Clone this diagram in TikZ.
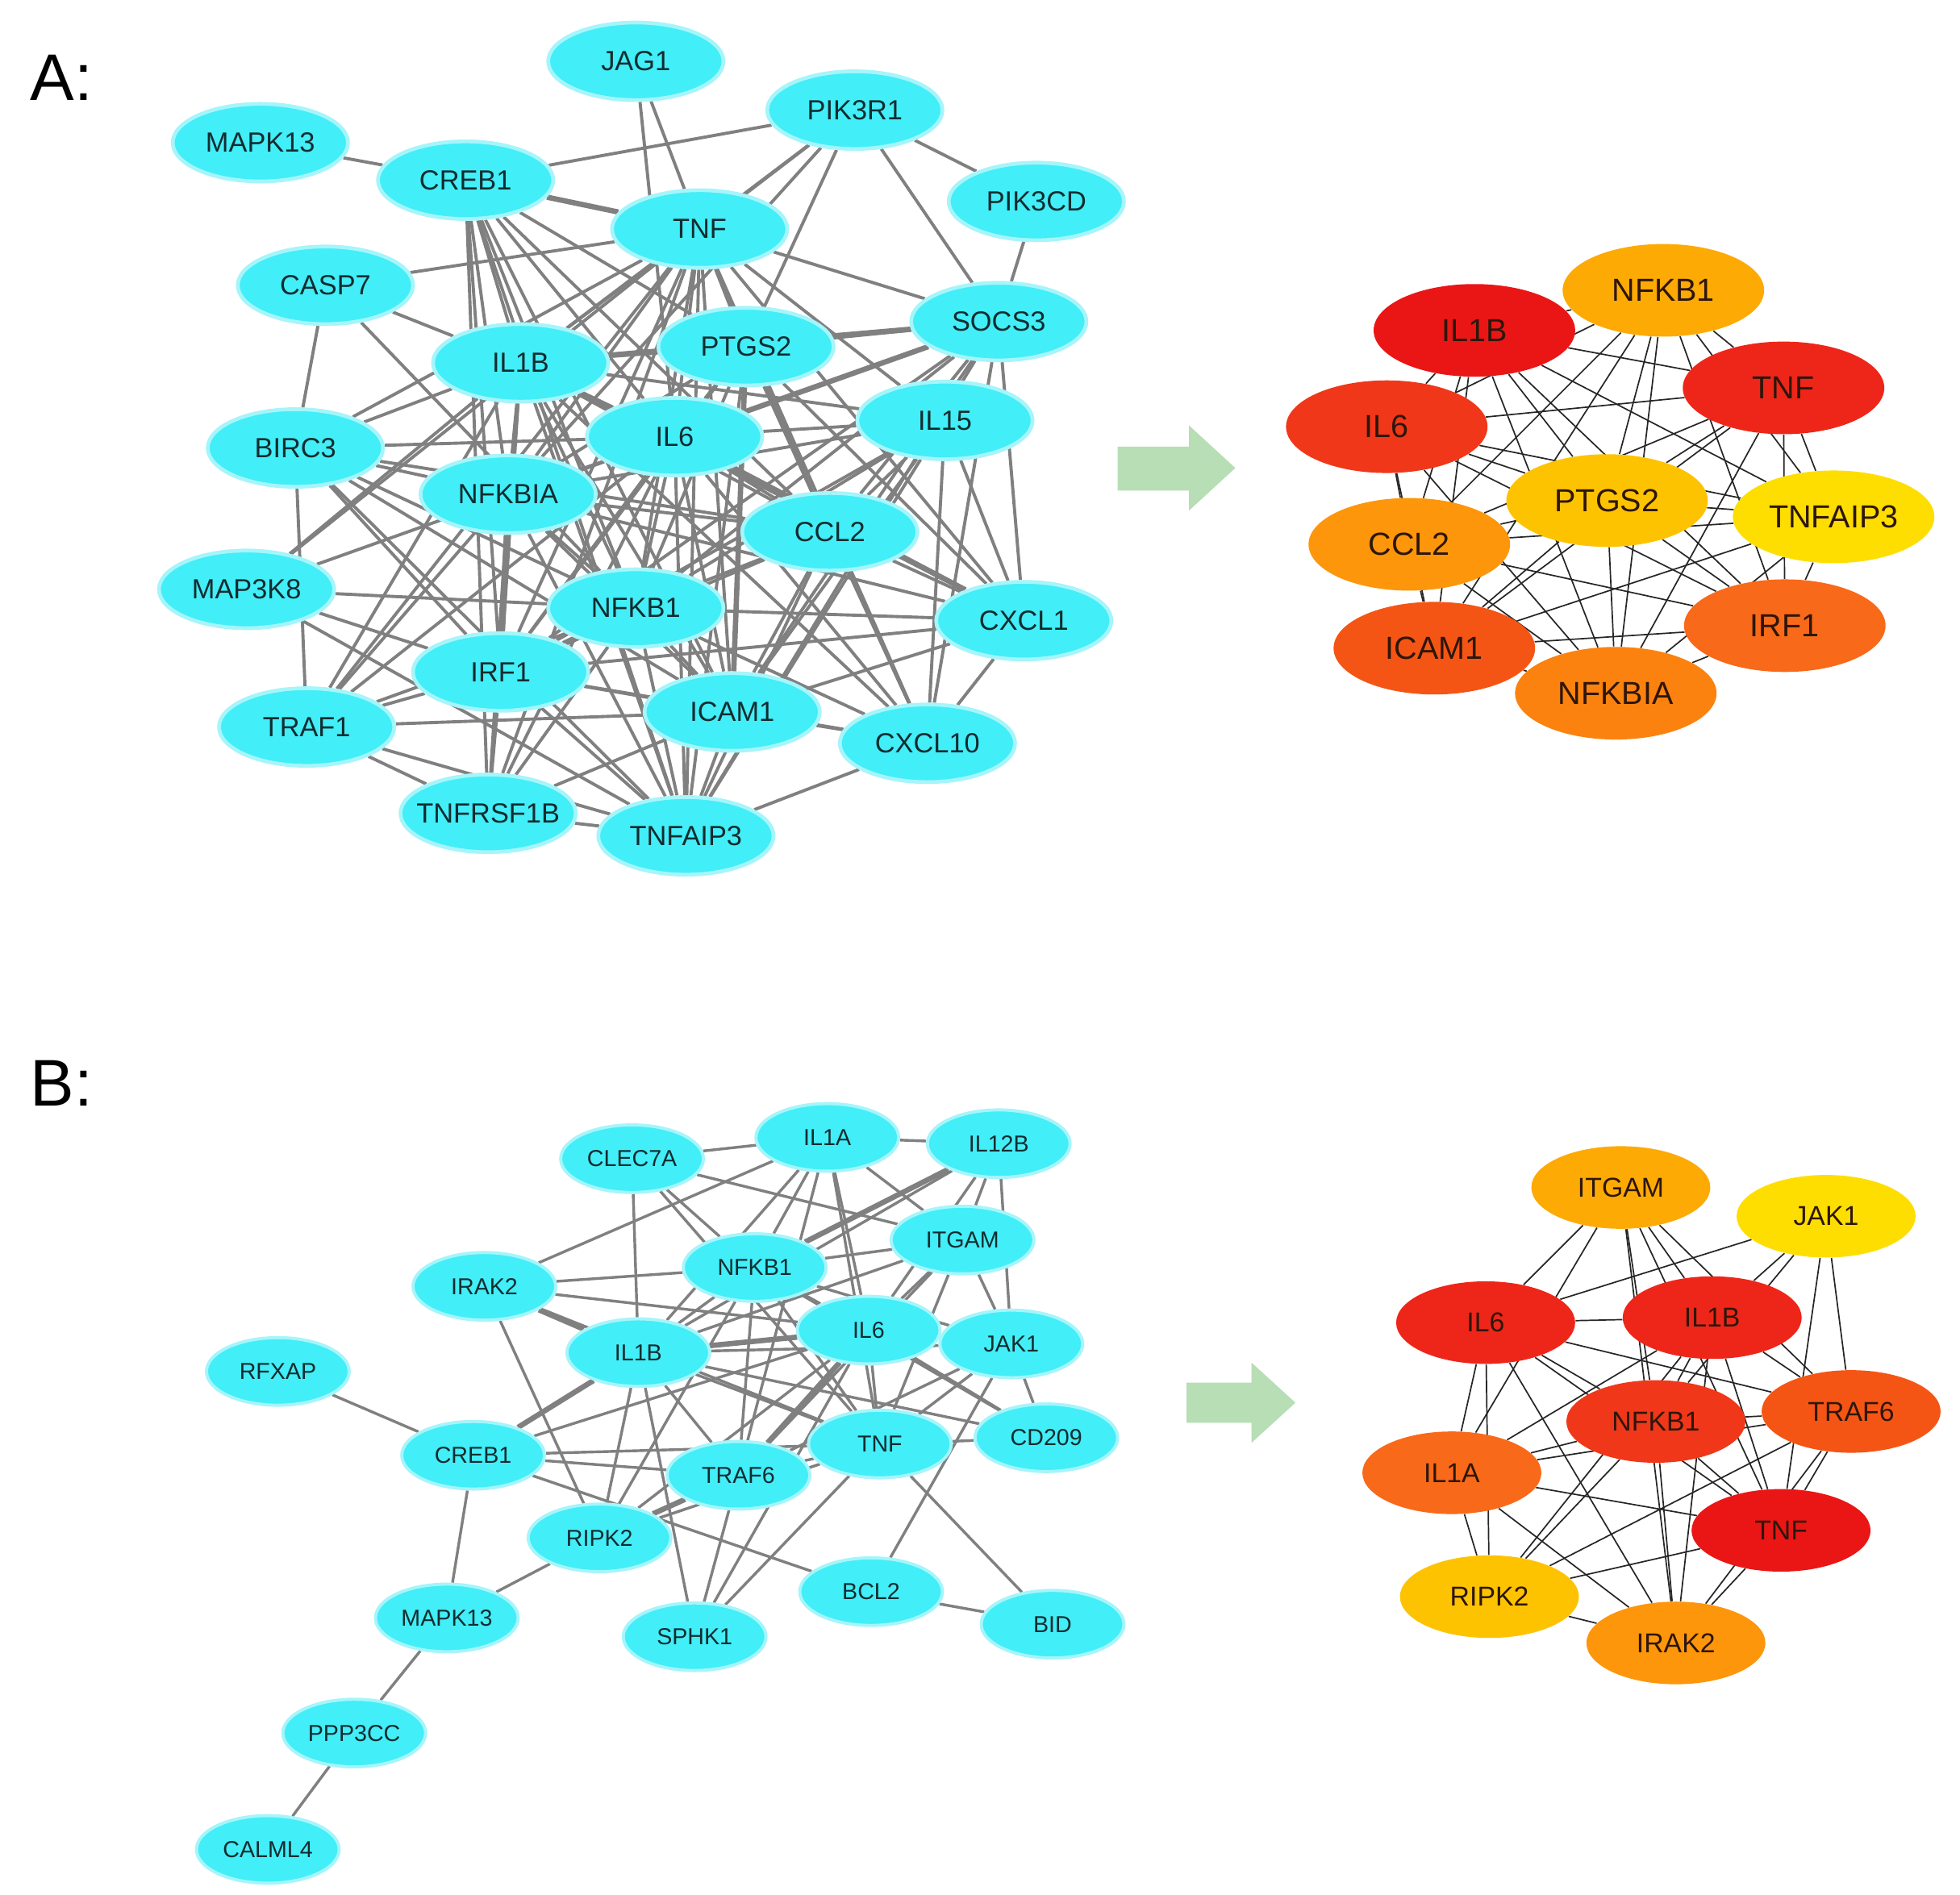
\documentclass[tikz,border=0pt]{standalone}
\usepackage{fontspec}
\setmainfont{Liberation Sans}
\usetikzlibrary{shapes.geometric,backgrounds}
\pgfdeclarelayer{edgelayer}
\pgfsetlayers{background,edgelayer,main}
\definecolor{cyanfill}{RGB}{66,238,247}
\definecolor{cyanglow}{RGB}{165,245,250}
\definecolor{cyantext}{RGB}{18,44,48}
\definecolor{edgegray}{RGB}{128,128,128}
\definecolor{hubtext}{RGB}{45,22,10}
\definecolor{arrowgreen}{RGB}{183,222,180}
\definecolor{cRa}{RGB}{234,22,22}
\definecolor{cRb}{RGB}{238,38,25}
\definecolor{cRc}{RGB}{240,55,25}
\definecolor{cRd}{RGB}{245,85,20}
\definecolor{cRe}{RGB}{248,105,25}
\definecolor{cRf}{RGB}{252,130,15}
\definecolor{cRg}{RGB}{253,150,10}
\definecolor{cRh}{RGB}{254,170,5}
\definecolor{cRi}{RGB}{254,195,0}
\definecolor{cRj}{RGB}{254,222,0}
\newcommand\zt[1]{\makebox[0pt]{#1}}
\begin{document}
\begin{tikzpicture}[x=0.2mm,y=-0.2mm,
 cnode/.style={ellipse, inner sep=0pt, fill=cyanfill, draw=cyanglow, line width=0.6mm, text=cyantext},
 cA/.style={cnode, minimum width=28mm, minimum height=12.4mm, font=\fontsize{12.6}{14}\selectfont},
 cB/.style={cnode, minimum width=22.8mm, minimum height=10.8mm, font=\fontsize{10.5}{12}\selectfont, line width=0.5mm},
 hA/.style={ellipse, inner sep=0pt, minimum width=32.2mm, minimum height=14.8mm, text=hubtext, font=\fontsize{14.5}{16}\selectfont, fill=#1},
 hB/.style={ellipse, inner sep=0pt, minimum width=28.6mm, minimum height=13.2mm, text=hubtext, font=\fontsize{12.4}{14}\selectfont, fill=#1},
 ge/.style={draw=edgegray, line width=0.5mm},
 gt/.style={draw=edgegray, line width=0.85mm},
 gb/.style={draw=edgegray, line width=0.44mm},
 be/.style={draw=black!85, line width=0.22mm},
 panellabel/.style={font=\fontsize{30}{32}\selectfont, anchor=west, inner sep=0pt}
]
\begin{pgfonlayer}{background}
\fill[white] (0,0) rectangle (1566,1514);
\end{pgfonlayer}
\useasboundingbox (0,0) rectangle (1566,1514);

% labels
\node[panellabel] (labA) at (24,62) {A:};
\node[panellabel] (labB) at (24,866) {B:};

% arrows
\fill[arrowgreen] (893,357) -- (950,357) -- (950,340) -- (987,374) -- (950,408) -- (950,392) -- (893,392) -- cycle;
\fill[arrowgreen] (948,1105) -- (1000,1105) -- (1000,1089) -- (1035,1121) -- (1000,1153) -- (1000,1137) -- (948,1137) -- cycle;

% ---------- Panel A left ----------
\node[cA] (aJAG1) at (508,49) {\zt{JAG1}};
\node[cA] (aPIK3R1) at (683,88) {\zt{PIK3R1}};
\node[cA] (aMAPK13) at (208,114) {\zt{MAPK13}};
\node[cA] (aCREB1) at (372,144) {\zt{CREB1}};
\node[cA] (aPIK3CD) at (828,161) {\zt{PIK3CD}};
\node[cA] (aTNF) at (559,183) {\zt{TNF}};
\node[cA] (aCASP7) at (260,228) {\zt{CASP7}};
\node[cA] (aSOCS3) at (798,257) {\zt{SOCS3}};
\node[cA] (aIL1B) at (416,290) {\zt{IL1B}};
\node[cA] (aPTGS2) at (596,277) {\zt{PTGS2}};
\node[cA] (aIL15) at (755,336) {\zt{IL15}};
\node[cA] (aBIRC3) at (236,358) {\zt{BIRC3}};
\node[cA] (aIL6) at (539,349) {\zt{IL6}};
\node[cA] (aNFKBIA) at (406,395) {\zt{NFKBIA}};
\node[cA] (aCCL2) at (663,425) {\zt{CCL2}};
\node[cA] (aMAP3K8) at (197,471) {\zt{MAP3K8}};
\node[cA] (aNFKB1) at (508,486) {\zt{NFKB1}};
\node[cA] (aCXCL1) at (818,496) {\zt{CXCL1}};
\node[cA] (aIRF1) at (400,537) {\zt{IRF1}};
\node[cA] (aICAM1) at (585,569) {\zt{ICAM1}};
\node[cA] (aTRAF1) at (245,581) {\zt{TRAF1}};
\node[cA] (aCXCL10) at (741,594) {\zt{CXCL10}};
\node[cA] (aTNFRSF1B) at (390,650) {\zt{TNFRSF1B}};
\node[cA] (aTNFAIP3) at (548,668) {\zt{TNFAIP3}};

% ---------- Panel A right ----------
\node[hA=cRh] (rNFKB1) at (1329,232) {\zt{NFKB1}};
\node[hA=cRa] (rIL1B) at (1178,264) {\zt{IL1B}};
\node[hA=cRb] (rTNF) at (1425,310) {\zt{TNF}};
\node[hA=cRc] (rIL6) at (1108,341) {\zt{IL6}};
\node[hA=cRi] (rPTGS2) at (1284,400) {\zt{PTGS2}};
\node[hA=cRj] (rTNFAIP3) at (1465,413) {\zt{TNFAIP3}};
\node[hA=cRg] (rCCL2) at (1126,435) {\zt{CCL2}};
\node[hA=cRd] (rICAM1) at (1146,518) {\zt{ICAM1}};
\node[hA=cRe] (rIRF1) at (1426,500) {\zt{IRF1}};
\node[hA=cRf] (rNFKBIA) at (1291,554) {\zt{NFKBIA}};

% ---------- Panel B left ----------
\node[cB] (bCLEC7A) at (505,926) {\zt{CLEC7A}};
\node[cB] (bIL1A) at (661,909) {\zt{IL1A}};
\node[cB] (bIL12B) at (798,914) {\zt{IL12B}};
\node[cB] (bITGAM) at (769,991) {\zt{ITGAM}};
\node[cB] (bNFKB1) at (603,1013) {\zt{NFKB1}};
\node[cB] (bIRAK2) at (387,1028) {\zt{IRAK2}};
\node[cB] (bIL6) at (694,1063) {\zt{IL6}};
\node[cB] (bJAK1) at (808,1074) {\zt{JAK1}};
\node[cB] (bIL1B) at (510,1081) {\zt{IL1B}};
\node[cB] (bRFXAP) at (222,1096) {\zt{RFXAP}};
\node[cB] (bCD209) at (836,1149) {\zt{CD209}};
\node[cB] (bCREB1) at (378,1163) {\zt{CREB1}};
\node[cB] (bTNF) at (703,1154) {\zt{TNF}};
\node[cB] (bTRAF6) at (590,1179) {\zt{TRAF6}};
\node[cB] (bRIPK2) at (479,1229) {\zt{RIPK2}};
\node[cB] (bBCL2) at (696,1272) {\zt{BCL2}};
\node[cB] (bBID) at (841,1298) {\zt{BID}};
\node[cB] (bMAPK13) at (357,1293) {\zt{MAPK13}};
\node[cB] (bSPHK1) at (555,1308) {\zt{SPHK1}};
\node[cB] (bPPP3CC) at (283,1385) {\zt{PPP3CC}};
\node[cB] (bCALML4) at (214,1478) {\zt{CALML4}};

% ---------- Panel B right ----------
\node[hB=cRh] (sITGAM) at (1295,949) {\zt{ITGAM}};
\node[hB=cRj] (sJAK1) at (1459,972) {\zt{JAK1}};
\node[hB=cRb] (sIL6) at (1187,1057) {\zt{IL6}};
\node[hB=cRb] (sIL1B) at (1368,1053) {\zt{IL1B}};
\node[hB=cRc] (sNFKB1) at (1323,1136) {\zt{NFKB1}};
\node[hB=cRd] (sTRAF6) at (1479,1128) {\zt{TRAF6}};
\node[hB=cRe] (sIL1A) at (1160,1177) {\zt{IL1A}};
\node[hB=cRa] (sTNF) at (1423,1223) {\zt{TNF}};
\node[hB=cRi] (sRIPK2) at (1190,1276) {\zt{RIPK2}};
\node[hB=cRg] (sIRAK2) at (1339,1313) {\zt{IRAK2}};

\begin{pgfonlayer}{edgelayer}
% Panel A left: hub clique
\foreach \u/\v in {TNF/IL1B,TNF/IL6,TNF/NFKBIA,TNF/NFKB1,TNF/PTGS2,TNF/CCL2,TNF/ICAM1,TNF/IRF1,TNF/TNFAIP3,
  IL1B/IL6,IL1B/NFKBIA,IL1B/NFKB1,IL1B/PTGS2,IL1B/CCL2,IL1B/ICAM1,IL1B/IRF1,IL1B/TNFAIP3,
  IL6/NFKBIA,IL6/NFKB1,IL6/PTGS2,IL6/CCL2,IL6/ICAM1,IL6/IRF1,IL6/TNFAIP3,
  NFKBIA/NFKB1,NFKBIA/PTGS2,NFKBIA/CCL2,NFKBIA/ICAM1,NFKBIA/TNFAIP3,
  NFKB1/PTGS2,NFKB1/CCL2,NFKB1/ICAM1,NFKB1/IRF1,NFKB1/TNFAIP3,
  PTGS2/CCL2,PTGS2/IRF1,PTGS2/TNFAIP3,
  CCL2/ICAM1,CCL2/IRF1,CCL2/TNFAIP3,
  ICAM1/IRF1,ICAM1/TNFAIP3,IRF1/TNFAIP3}
  \draw[ge] (a\u) -- (a\v);
\foreach \u/\v in {NFKBIA/IRF1,IL6/SOCS3,PTGS2/ICAM1,TNF/CREB1,IL1B/SOCS3,IL6/CXCL1}
  \draw[gt] (a\u) -- (a\v);
\foreach \u/\v in {JAG1/TNF,JAG1/IL6,
  PIK3R1/CREB1,PIK3R1/TNF,PIK3R1/NFKBIA,PIK3R1/PTGS2,PIK3R1/SOCS3,PIK3R1/PIK3CD,PIK3R1/IL1B,
  MAPK13/CREB1,
  CREB1/IL1B,CREB1/IL6,CREB1/NFKBIA,CREB1/NFKB1,CREB1/IRF1,CREB1/CCL2,CREB1/ICAM1,CREB1/TNFAIP3,CREB1/TNFRSF1B,CREB1/PTGS2,
  CASP7/TNF,CASP7/IL1B,CASP7/BIRC3,CASP7/NFKB1,
  BIRC3/IL1B,BIRC3/IL6,BIRC3/NFKBIA,BIRC3/TNF,BIRC3/NFKB1,BIRC3/TRAF1,BIRC3/ICAM1,BIRC3/TNFAIP3,BIRC3/IRF1,BIRC3/CCL2,
  MAP3K8/NFKB1,MAP3K8/IL6,MAP3K8/TNF,MAP3K8/TNFAIP3,MAP3K8/IL1B,MAP3K8/IRF1,
  TRAF1/NFKBIA,TRAF1/IRF1,TRAF1/TNF,TRAF1/NFKB1,TRAF1/TNFRSF1B,TRAF1/TNFAIP3,TRAF1/ICAM1,TRAF1/IL1B,TRAF1/IL6,
  TNFRSF1B/TNF,TNFRSF1B/IL1B,TNFRSF1B/NFKB1,TNFRSF1B/IRF1,TNFRSF1B/TNFAIP3,TNFRSF1B/NFKBIA,TNFRSF1B/ICAM1,TNFRSF1B/IL6,
  SOCS3/PIK3CD,SOCS3/TNF,SOCS3/PTGS2,SOCS3/CXCL1,SOCS3/CXCL10,SOCS3/NFKB1,SOCS3/ICAM1,SOCS3/IRF1,SOCS3/CCL2,SOCS3/TNFAIP3,
  IL15/TNF,IL15/IL6,IL15/IL1B,IL15/NFKB1,IL15/CCL2,IL15/IRF1,IL15/ICAM1,IL15/CXCL10,IL15/TNFAIP3,IL15/NFKBIA,IL15/CXCL1,
  CXCL1/CCL2,CXCL1/IL1B,CXCL1/NFKB1,CXCL1/TNF,CXCL1/CXCL10,CXCL1/PTGS2,CXCL1/ICAM1,CXCL1/NFKBIA,CXCL1/IRF1,
  CXCL10/CCL2,CXCL10/ICAM1,CXCL10/IL6,CXCL10/IL1B,CXCL10/NFKB1,CXCL10/TNF,CXCL10/TNFAIP3,CXCL10/PTGS2,CXCL10/IRF1}
  \draw[ge] (a\u) -- (a\v);

% Panel A right: complete graph
\foreach \u/\v in {TNF/IL1B,TNF/IL6,TNF/NFKBIA,TNF/NFKB1,TNF/PTGS2,TNF/CCL2,TNF/ICAM1,TNF/IRF1,TNF/TNFAIP3,
  IL1B/IL6,IL1B/NFKBIA,IL1B/NFKB1,IL1B/PTGS2,IL1B/CCL2,IL1B/ICAM1,IL1B/IRF1,IL1B/TNFAIP3,
  IL6/NFKBIA,IL6/NFKB1,IL6/PTGS2,IL6/CCL2,IL6/ICAM1,IL6/IRF1,IL6/TNFAIP3,
  NFKBIA/NFKB1,NFKBIA/PTGS2,NFKBIA/CCL2,NFKBIA/ICAM1,NFKBIA/IRF1,NFKBIA/TNFAIP3,
  NFKB1/PTGS2,NFKB1/CCL2,NFKB1/ICAM1,NFKB1/IRF1,NFKB1/TNFAIP3,
  PTGS2/CCL2,PTGS2/ICAM1,PTGS2/IRF1,PTGS2/TNFAIP3,
  CCL2/ICAM1,CCL2/IRF1,CCL2/TNFAIP3,
  ICAM1/IRF1,ICAM1/TNFAIP3,IRF1/TNFAIP3}
  \draw[be] (r\u) -- (r\v);

% Panel B left
\foreach \u/\v in {CLEC7A/IL1A,CLEC7A/IL1B,CLEC7A/NFKB1,CLEC7A/ITGAM,CLEC7A/TNF,
  IL1A/IL12B,IL1A/NFKB1,IL1A/IRAK2,IL1A/IL6,IL1A/TNF,IL1A/ITGAM,IL1A/IL1B,IL1A/TRAF6,
  IL12B/ITGAM,IL12B/IL6,IL12B/JAK1,IL12B/IL1B,
  ITGAM/NFKB1,ITGAM/IL6,ITGAM/JAK1,ITGAM/TNF,ITGAM/IL1B,ITGAM/TRAF6,
  IRAK2/NFKB1,IRAK2/IL6,IRAK2/TNF,IRAK2/RIPK2,
  NFKB1/IL1B,NFKB1/IL6,NFKB1/TNF,NFKB1/TRAF6,NFKB1/JAK1,NFKB1/RIPK2,NFKB1/CD209,
  IL1B/TNF,IL1B/TRAF6,IL1B/RIPK2,IL1B/SPHK1,IL1B/JAK1,IL1B/CD209,
  IL6/JAK1,IL6/TNF,IL6/CD209,IL6/RIPK2,IL6/SPHK1,IL6/CREB1,
  JAK1/TNF,JAK1/CD209,JAK1/TRAF6,JAK1/BCL2,
  TNF/TRAF6,TNF/CREB1,TNF/CD209,TNF/BID,TNF/SPHK1,TNF/RIPK2,
  CREB1/RFXAP,CREB1/MAPK13,CREB1/TRAF6,CREB1/BCL2,
  RIPK2/MAPK13,TRAF6/SPHK1,BCL2/BID,MAPK13/PPP3CC,PPP3CC/CALML4}
  \draw[gb] (b\u) -- (b\v);
\foreach \u/\v in {IL1B/CREB1,IL12B/NFKB1,IL1B/IL6,IRAK2/IL1B,TRAF6/RIPK2,IL6/TRAF6}
  \draw[gt] (b\u) -- (b\v);

% Panel B right
\foreach \u/\v in {ITGAM/IL6,ITGAM/IL1A,ITGAM/NFKB1,ITGAM/IL1B,ITGAM/TRAF6,ITGAM/TNF,ITGAM/IRAK2,
  JAK1/IL6,JAK1/IL1B,JAK1/NFKB1,JAK1/TNF,JAK1/TRAF6,
  IL6/IL1B,IL6/NFKB1,IL6/TRAF6,IL6/TNF,IL6/IL1A,IL6/RIPK2,IL6/IRAK2,
  IL1B/NFKB1,IL1B/TRAF6,IL1B/TNF,IL1B/IL1A,IL1B/RIPK2,IL1B/IRAK2,
  NFKB1/TRAF6,NFKB1/TNF,NFKB1/IL1A,NFKB1/RIPK2,NFKB1/IRAK2,
  TRAF6/TNF,TRAF6/IL1A,TRAF6/RIPK2,TRAF6/IRAK2,
  TNF/IL1A,TNF/RIPK2,TNF/IRAK2,IL1A/RIPK2,IL1A/IRAK2,RIPK2/IRAK2}
  \draw[be] (s\u) -- (s\v);
\end{pgfonlayer}
\end{tikzpicture}
\end{document}
